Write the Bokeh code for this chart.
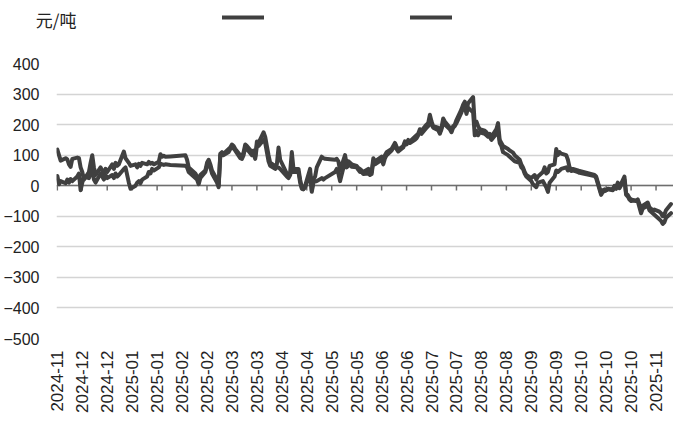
import math
import pandas as pd
from bokeh.plotting import figure
from bokeh.layouts import column
from bokeh.models import (Range1d, FixedTicker, DatetimeTickFormatter, Legend,
                          LegendItem)
from bokeh.embed import file_html
from bokeh.resources import INLINE

dates = [
    "2024-11-20", "2024-11-21", "2024-11-22", "2024-11-25", "2024-11-26", "2024-11-27", "2024-11-28", "2024-11-29",
    "2024-12-02", "2024-12-03", "2024-12-04", "2024-12-05", "2024-12-06", "2024-12-09", "2024-12-10", "2024-12-11",
    "2024-12-12", "2024-12-13", "2024-12-16", "2024-12-17", "2024-12-18", "2024-12-19", "2024-12-20", "2024-12-23",
    "2024-12-24", "2024-12-25", "2024-12-26", "2024-12-27", "2024-12-30", "2024-12-31", "2025-01-02", "2025-01-03",
    "2025-01-06", "2025-01-07", "2025-01-08", "2025-01-09", "2025-01-10", "2025-01-13", "2025-01-14", "2025-01-15",
    "2025-01-16", "2025-01-17", "2025-01-20", "2025-01-21", "2025-01-22", "2025-01-23", "2025-01-24", "2025-01-27",
    "2025-02-05", "2025-02-06", "2025-02-07", "2025-02-10", "2025-02-11", "2025-02-12", "2025-02-13", "2025-02-14",
    "2025-02-17", "2025-02-18", "2025-02-19", "2025-02-20", "2025-02-21", "2025-02-24", "2025-02-25", "2025-02-26",
    "2025-02-27", "2025-02-28", "2025-03-03", "2025-03-04", "2025-03-05", "2025-03-06", "2025-03-07", "2025-03-10",
    "2025-03-11", "2025-03-12", "2025-03-13", "2025-03-14", "2025-03-17", "2025-03-18", "2025-03-19", "2025-03-20",
    "2025-03-21", "2025-03-24", "2025-03-25", "2025-03-26", "2025-03-27", "2025-03-28", "2025-03-31", "2025-04-01",
    "2025-04-02", "2025-04-03", "2025-04-07", "2025-04-08", "2025-04-09", "2025-04-10", "2025-04-11", "2025-04-14",
    "2025-04-15", "2025-04-16", "2025-04-17", "2025-04-18", "2025-04-21", "2025-04-22", "2025-04-23", "2025-04-24",
    "2025-04-25", "2025-04-28", "2025-04-29", "2025-04-30", "2025-05-06", "2025-05-07", "2025-05-08", "2025-05-09",
    "2025-05-12", "2025-05-13", "2025-05-14", "2025-05-15", "2025-05-16", "2025-05-19", "2025-05-20", "2025-05-21",
    "2025-05-22", "2025-05-23", "2025-05-26", "2025-05-27", "2025-05-28", "2025-05-29", "2025-05-30", "2025-06-03",
    "2025-06-04", "2025-06-05", "2025-06-06", "2025-06-09", "2025-06-10", "2025-06-11", "2025-06-12", "2025-06-13",
    "2025-06-16", "2025-06-17", "2025-06-18", "2025-06-19", "2025-06-20", "2025-06-23", "2025-06-24", "2025-06-25",
    "2025-06-26", "2025-06-27", "2025-06-30", "2025-07-01", "2025-07-02", "2025-07-03", "2025-07-04", "2025-07-07",
    "2025-07-08", "2025-07-09", "2025-07-10", "2025-07-11", "2025-07-14", "2025-07-15", "2025-07-16", "2025-07-17",
    "2025-07-18", "2025-07-21", "2025-07-22", "2025-07-23", "2025-07-24", "2025-07-25", "2025-07-28", "2025-07-29",
    "2025-07-30", "2025-07-31", "2025-08-01", "2025-08-04", "2025-08-05", "2025-08-06", "2025-08-07", "2025-08-08",
    "2025-08-11", "2025-08-12", "2025-08-13", "2025-08-14", "2025-08-15", "2025-08-18", "2025-08-19", "2025-08-20",
    "2025-08-21", "2025-08-22", "2025-08-25", "2025-08-26", "2025-08-27", "2025-08-28", "2025-08-29", "2025-09-01",
    "2025-09-02", "2025-09-03", "2025-09-04", "2025-09-05", "2025-09-08", "2025-09-09", "2025-09-10", "2025-09-11",
    "2025-09-12", "2025-09-15", "2025-09-16", "2025-09-17", "2025-09-18", "2025-09-19", "2025-09-22", "2025-09-23",
    "2025-09-24", "2025-09-25", "2025-09-26", "2025-09-29", "2025-09-30", "2025-10-09", "2025-10-10", "2025-10-13",
    "2025-10-14", "2025-10-15", "2025-10-16", "2025-10-17", "2025-10-20", "2025-10-21", "2025-10-22", "2025-10-23",
    "2025-10-24", "2025-10-27", "2025-10-28", "2025-10-29", "2025-10-30", "2025-10-31", "2025-11-03", "2025-11-04",
    "2025-11-05", "2025-11-06", "2025-11-07", "2025-11-10", "2025-11-11", "2025-11-12", "2025-11-13", "2025-11-14",
    "2025-11-17", "2025-11-18", "2025-11-19", "2025-11-20", "2025-11-21", "2025-11-24",
]

spread_a = [
    118, 100, 82, 90, 86, 70, 62, 88,
    92, 90, 60, 45, 20, 45, 75, 100,
    60, 35, 60, 50, 40, 55, 45, 70,
    55, 75, 65, 70, 112, 90, 75, 65,
    70, 60, 72, 65, 75, 70, 78, 72,
    75, 70, 78, 103, 95, 98, 95, 96,
    100, 85, 60, 45, 40, 30, 15, 35,
    50, 75, 85, 70, 50, 20, 0, 105,
    110, 105, 120, 125, 135, 130, 120, 100,
    95, 110, 135, 130, 110, 115, 95, 145,
    140, 175, 160, 130, 100, 75, 65, 70,
    125, 85, 40, 30, 45, 110, 55, 55,
    20, -5, -10, 0, 55, -15, 20, 30,
    60, 95, 90, 88, 85, 88, 80, 50,
    100, 70, 80, 75, 70, 65, 58, 55,
    50, 45, 55, 40, 45, 90, 80, 95,
    80, 100, 110, 120, 130, 140, 128, 118,
    130, 145, 140, 150, 145, 160, 165, 170,
    185, 180, 200, 205, 232, 210, 195, 190,
    175, 190, 220, 210, 190, 180, 195, 200,
    215, 250, 265, 275, 245, 270, 290, 200,
    210, 195, 185, 180, 175, 165, 170, 160,
    185, 205, 150, 140, 130, 120, 115, 112,
    108, 100, 85, 70, 60, 45, 35, 25,
    30, 35, 20, 30, 45, 60, 40, 45,
    65, 70, 120, 100, 110, 105, 100, 85,
    60, 55, 55, 50, 48, 35, 30, -25,
    -15, -12, -15, -10, -12, 0, -5, 10,
    -5, 30, -25, -30, -40, -45, -50, -45,
    -60, -75, -65, -55, -70, -75, -80, -78,
    -85, -90, -100, -95, -80, -60,
]

spread_b = [
    32, 5, 15, 8, 20, 10, 22, 15,
    30, 40, -15, 10, 30, 25, 40, 55,
    20, 10, 40, 30, 20, 35, 25, 35,
    25, 40, 30, 35, 55, 60, 10, -10,
    0, 10, 15, 8, 20, 30, 45, 40,
    55, 50, 60, 72, 70, 68, 70, 68,
    65, 60, 45, 30, 25, 20, 5, 25,
    45, 65, 80, 60, 40, 10, -5, 100,
    100, 100, 110, 120, 125, 122, 115, 90,
    88, 100, 125, 120, 100, 105, 88, 130,
    130, 150, 140, 110, 80, 65, 55, 60,
    60, 55, 30, 25, 35, 60, 45, 45,
    10, -10, -12, -5, 40, -20, 10, 15,
    15, 25, 20, 25, 45, 55, 40, 15,
    80, 60, 65, 70, 62, 60, 52, 45,
    45, 38, 40, 35, 38, 80, 70, 85,
    70, 90, 100, 115, 125, 135, 120, 112,
    125, 140, 135, 145, 140, 150, 155, 165,
    175, 170, 190, 195, 215, 200, 190, 182,
    170, 185, 205, 200, 185, 175, 190, 195,
    205, 240, 255, 260, 235, 255, 240, 165,
    180, 165, 175, 170, 165, 160, 160, 150,
    170, 180, 140, 130, 110, 100, 95, 90,
    85, 80, 75, 60, 55, 40, 30, 15,
    5, 0, -5, 10, 15, 5, -5, -20,
    10, 30, 50, 45, 50, 55, 60, 50,
    55, 48, 50, 45, 42, 32, 25, -30,
    -20, -18, -15, -12, -15, -5, -10, 5,
    -8, 20, -30, -35, -45, -50, -48, -50,
    -70, -90, -75, -65, -80, -85, -90, -95,
    -110, -115, -125, -120, -105, -90,
]

tick_dates = [
    "2024-11-20", "2024-12-05", "2024-12-20", "2025-01-04", "2025-01-19", "2025-02-03", "2025-02-18",
    "2025-03-05", "2025-03-20", "2025-04-04", "2025-04-19", "2025-05-04", "2025-05-19", "2025-06-03",
    "2025-06-18", "2025-07-03", "2025-07-18", "2025-08-02", "2025-08-17", "2025-09-01", "2025-09-16",
    "2025-10-01", "2025-10-16", "2025-10-31", "2025-11-15",
]
y_ticks = [-500, -400, -300, -200, -100, 0, 100, 200, 300, 400]
unit_label = "元/吨"

x = pd.to_datetime(dates)
tick_x = pd.to_datetime(tick_dates)
tick_ms = [t.value / 1e6 for t in tick_x]

LINE = "#404040"
AXIS = "#6e6e6e"
TXT = "#222222"
NUM_FONT = "Liberation Sans"

# ---- header strip: unit label (as the strip's axis label) + legend ----
head = figure(width=673, height=55, output_backend="svg", toolbar_location=None,
              x_range=Range1d(0, 1), y_range=Range1d(0, 55), x_axis_location=None,
              min_border_left=46, min_border_right=0, min_border_top=0, min_border_bottom=0)
head.outline_line_color = None
head.xgrid.visible = False
head.ygrid.visible = False
head.yaxis.ticker = FixedTicker(ticks=[36])
head.yaxis.major_label_overrides = {36: unit_label}
head.yaxis.axis_line_color = None
head.yaxis.major_tick_line_color = None
head.yaxis.major_tick_in = 0
head.yaxis.major_tick_out = 0
head.yaxis.minor_tick_line_color = None
head.yaxis.major_label_standoff = -20
head.yaxis.major_label_text_font = "Noto Sans CJK SC"
head.yaxis.major_label_text_font_size = "17px"
head.yaxis.major_label_text_color = TXT
ka = head.line(x=[-5, -4], y=[-50, -50], line_color=LINE, line_width=4, line_cap="round")
kb = head.line(x=[-5, -4], y=[-50, -50], line_color=LINE, line_width=4, line_cap="round")
head.add_layout(Legend(items=[LegendItem(label=" ", renderers=[ka]), LegendItem(label=" ", renderers=[kb])],
                       orientation="horizontal", location=(166, 31), glyph_width=42, glyph_height=14,
                       label_width=130, label_standoff=6, spacing=10, padding=0, margin=0,
                       border_line_color=None, background_fill_alpha=0))

# ---- main chart ----
p = figure(width=673, height=360, x_axis_type="datetime",
           output_backend="svg", toolbar_location=None,
           x_range=Range1d(pd.Timestamp("2024-11-19 12:00"), pd.Timestamp("2025-11-25 12:00")),
           y_range=Range1d(-500, 400),
           min_border_left=46, min_border_right=0, min_border_top=8, min_border_bottom=73)
p.outline_line_color = None
p.background_fill_color = "white"
p.border_fill_color = "white"

p.xgrid.visible = False
p.ygrid.ticker = FixedTicker(ticks=y_ticks)
p.ygrid.grid_line_color = "#d4d4d4"
p.ygrid.grid_line_width = 1.5

p.yaxis.ticker = FixedTicker(ticks=y_ticks)
p.yaxis.axis_line_color = None
p.yaxis.major_tick_line_color = None
p.yaxis.minor_tick_line_color = None
p.yaxis.major_label_standoff = 11
p.yaxis.major_label_text_font = NUM_FONT
p.yaxis.major_label_text_font_size = "16px"
p.yaxis.major_label_text_color = TXT

p.xaxis.ticker = FixedTicker(ticks=tick_ms)
fmt = "%Y-%m"
p.xaxis.formatter = DatetimeTickFormatter(milliseconds=fmt, seconds=fmt, minsec=fmt, minutes=fmt,
                                          hourmin=fmt, hours=fmt, days=fmt, months=fmt, years=fmt)
p.xaxis.major_label_orientation = math.pi / 2
p.xaxis.axis_line_color = None
p.xaxis.major_tick_line_color = None
p.xaxis.minor_tick_line_color = None
p.xaxis.major_label_standoff = 6
p.xaxis.major_label_text_font = NUM_FONT
p.xaxis.major_label_text_font_size = "17px"
p.xaxis.major_label_text_color = TXT

# zero axis line with tick marks
p.hspan(y=[0], line_color=AXIS, line_width=1.5)
p.segment(x0=tick_x, y0=0, x1=tick_x, y1=-16, line_color=AXIS, line_width=1.5)

p.line(x, spread_a, line_color=LINE, line_width=4, line_join="round", line_cap="round")
p.line(x, spread_b, line_color=LINE, line_width=4, line_join="round", line_cap="round")

layout = column(head, p, spacing=0)
open("out.html", "w").write(file_html(layout, INLINE))
